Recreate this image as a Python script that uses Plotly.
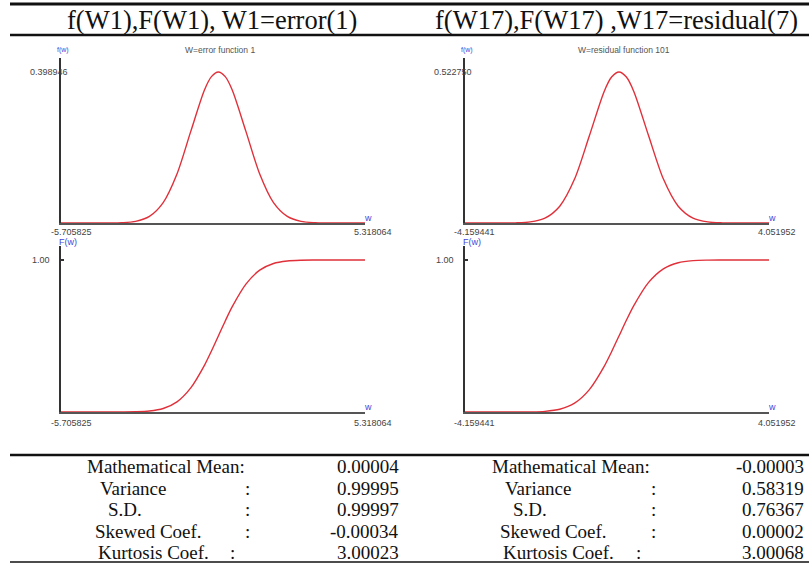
import plotly.graph_objects as go

W, H = 809, 563

# ---------------- data ----------------
titles = ["f(W1),F(W1), W1=error(1)", "f(W17),F(W17) ,W17=residual(7)"]
sub_titles = ["W=error function 1", "W=residual function 101"]

w1_min, w1_max = -5.705825, 5.318064
w1_peak = 0.398946
w1_x = [-5.705825, -4.5, -4.0, -3.5, -3.0, -2.5, -2.0, -1.5, -1.0, -0.5, -0.25, 0.0,
        0.25, 0.5, 1.0, 1.5, 2.0, 2.5, 3.0, 3.5, 4.0, 4.5, 5.318064]
w1_pdf = [0.0000, 0.0000, 0.0001, 0.0009, 0.0044, 0.0175, 0.0540, 0.1295, 0.2420, 0.3521, 0.3867, 0.3989,
          0.3867, 0.3521, 0.2420, 0.1295, 0.0540, 0.0175, 0.0044, 0.0009, 0.0001, 0.0000, 0.0000]
w1_cdf = [0.0000, 0.0000, 0.0000, 0.0002, 0.0013, 0.0062, 0.0228, 0.0668, 0.1587, 0.3085, 0.4013, 0.5000,
          0.5987, 0.6915, 0.8413, 0.9332, 0.9772, 0.9938, 0.9987, 0.9998, 1.0000, 1.0000, 1.0000]

w17_min, w17_max = -4.159441, 4.051952
w17_peak = 0.522750
w17_x = [-4.159441, -3.6, -3.2, -2.8, -2.4, -2.0, -1.6, -1.2, -0.8, -0.4, -0.2, 0.0,
         0.2, 0.4, 0.8, 1.2, 1.6, 2.0, 2.4, 2.8, 3.2, 3.6, 4.051952]
w17_pdf = [0.0000, 0.0000, 0.0001, 0.0006, 0.0037, 0.0169, 0.0582, 0.1520, 0.3018, 0.4554, 0.5052, 0.5228,
           0.5052, 0.4554, 0.3018, 0.1520, 0.0582, 0.0169, 0.0037, 0.0006, 0.0001, 0.0000, 0.0000]
w17_cdf = [0.0000, 0.0000, 0.0000, 0.0001, 0.0008, 0.0044, 0.0181, 0.0581, 0.1474, 0.3002, 0.3967, 0.5000,
           0.6033, 0.6998, 0.8526, 0.9419, 0.9819, 0.9956, 0.9992, 0.9999, 1.0000, 1.0000, 1.0000]

x_tick_labels = [["-5.705825", "5.318064"], ["-4.159441", "4.051952"]]
pdf_tick_labels = ["0.398946", "0.522750"]
cdf_tick_label = "1.00"

stat_labels = ["Mathematical Mean:", "Variance", "S.D.", "Skewed Coef.", "Kurtosis Coef."]
stats_w1 = ["0.00004", "0.99995", "0.99997", "-0.00034", "3.00023"]
stats_w17 = ["-0.00003", "0.58319", "0.76367", "0.00002", "3.00068"]

# ---------------- layout helpers ----------------
def px(x):
    return x / W

def py(y):
    return 1 - y / H

RED = "#e0303a"
BLUE = "#4646d8"
GREY = "#444444"
SANS = "Liberation Sans, Arial, sans-serif"
SERIF = "Liberation Serif, Times New Roman, serif"

def ann(x, y, text, size, color, family=SANS, xanchor="center"):
    return dict(x=px(x), y=py(y), xref="paper", yref="paper", text=text,
                showarrow=False, xanchor=xanchor, yanchor="middle", borderpad=0,
                font=dict(family=family, size=size, color=color))

fig = go.Figure()
annotations = []
shapes = []

panels = [
    dict(xmin=w1_min, xmax=w1_max, x=w1_x, pdf=w1_pdf, cdf=w1_cdf, peak=w1_peak),
    dict(xmin=w17_min, xmax=w17_max, x=w17_x, pdf=w17_pdf, cdf=w17_cdf, peak=w17_peak),
]

layout_axes = {}
ax_n = 1
for i, p in enumerate(panels):
    off = 404 * i
    x0, x1 = 61 + off, 365 + off
    for j, (yvals, ytop, ybot, yref_px, tval) in enumerate([
        (p["pdf"], 58, 223, 72, p["peak"]),
        (p["cdf"], 246, 412, 260, 1.0),
    ]):
        ymax = tval * (ybot - ytop) / (ybot - yref_px)
        xa = "xaxis" if ax_n == 1 else f"xaxis{ax_n}"
        ya = "yaxis" if ax_n == 1 else f"yaxis{ax_n}"
        xr = "x" if ax_n == 1 else f"x{ax_n}"
        yr = "y" if ax_n == 1 else f"y{ax_n}"
        layout_axes[xa] = dict(domain=[px(x0), px(x1)], range=[p["xmin"], p["xmax"]],
                               anchor=yr, showline=True, linecolor="#555555", linewidth=2,
                               showgrid=False, zeroline=False, showticklabels=False, ticks="")
        layout_axes[ya] = dict(domain=[py(ybot), py(ytop)], range=[0, ymax],
                               anchor=xr, showline=True, linecolor="#333333", linewidth=2,
                               showgrid=False, zeroline=False, showticklabels=False,
                               tickvals=[tval] if j == 1 else [], ticks="inside", ticklen=3,
                               tickwidth=2, tickcolor="#333333")
        fig.add_trace(go.Scatter(x=p["x"], y=yvals, mode="lines", xaxis=xr, yaxis=yr,
                                 line=dict(color=RED, width=1.4, shape="spline", smoothing=0.8),
                                 showlegend=False, hoverinfo="skip"))
        ly = ybot + (9 if j == 0 else 11)
        annotations.append(ann(x0 + 10, ly, x_tick_labels[i][0], 9, GREY))
        annotations.append(ann(x1 + 8, ly, x_tick_labels[i][1], 9, GREY))
        annotations.append(ann(x1 + 3, ybot - 5, "w", 9, BLUE))
        if j == 0:
            annotations.append(ann(x0 + 2, ytop - 8, "f(w)", 7, BLUE))
            annotations.append(ann(x0 + 8, yref_px, pdf_tick_labels[i], 9, GREY, xanchor="right"))
            annotations.append(ann(x0 + 159, 50, sub_titles[i], 8.5, "#555555"))
        else:
            annotations.append(ann(x0 + 7, ytop - 4, "F(w)", 9, BLUE))
            annotations.append(ann(x0 - 10, yref_px, cdf_tick_label, 9, GREY, xanchor="right"))
        ax_n += 1

# big titles
for i, t in enumerate(titles):
    annotations.append(ann([212, 616][i], 20, t, 26.5, "#111111", family=SERIF))

# horizontal rules
for yy, lw in [(4, 3), (35, 2.5), (455, 2.5), (562, 1.5)]:
    shapes.append(dict(type="line", xref="paper", yref="paper", x0=px(10), x1=1,
                       y0=py(yy), y1=py(yy), line=dict(color="#111111", width=lw)))

# statistics table
row_y = [466, 488, 509, 531, 552]
label_left = [86, 99, 107, 94, 97]
colon_x = [None, 248, 248, 248, 233]
for i, vals in enumerate([stats_w1, stats_w17]):
    off = 405 * i
    for r in range(5):
        annotations.append(ann(label_left[r] + off, row_y[r], stat_labels[r], 19, "#111111",
                               family=SERIF, xanchor="left"))
        if colon_x[r] is not None:
            annotations.append(ann(colon_x[r] + off, row_y[r], ":", 19, "#111111", family=SERIF))
        annotations.append(ann(400 + off, row_y[r], vals[r], 19, "#111111",
                               family=SERIF, xanchor="right"))

fig.update_layout(width=W, height=H, margin=dict(l=0, r=0, t=0, b=0),
                  paper_bgcolor="white", plot_bgcolor="white",
                  annotations=annotations, shapes=shapes, **layout_axes)

fig.write_html("out.html", config={"displayModeBar": False},
               post_script="document.body.style.margin='0';")
